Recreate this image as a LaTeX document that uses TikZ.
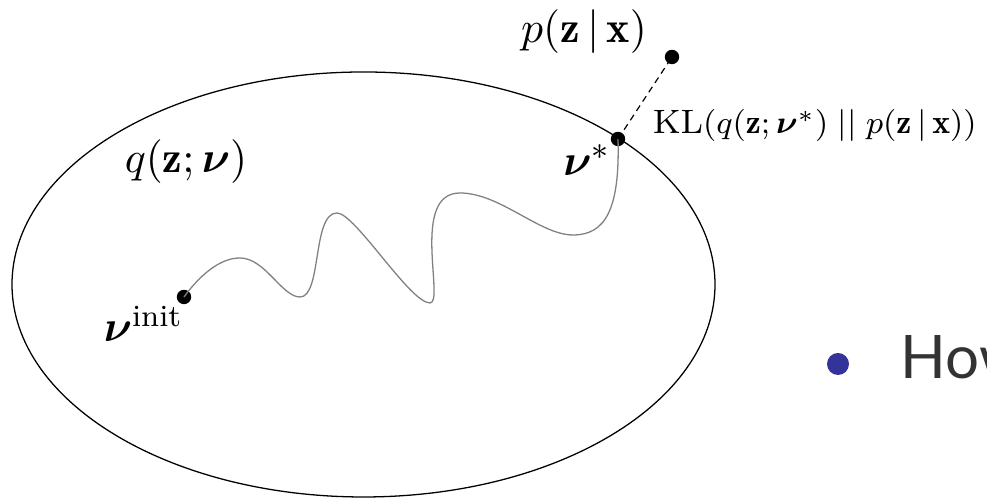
\documentclass[tikz,border=0pt]{standalone}
\usepackage{amsmath,amssymb}
\usepackage{fontspec}
\newfontfamily\howfont{Lato}
\definecolor{bulletblue}{RGB}{51,51,153}
\definecolor{pathgray}{RGB}{128,128,128}
\tikzset{
  dotnode/.style={circle, fill=black, inner sep=0pt, minimum size=3.6pt},
  mainlabel/.style={inner sep=0pt, font=\fontsize{11}{13}\selectfont},
  kllabel/.style={inner sep=0pt, font=\fontsize{8.45}{10}\selectfont},
  wiggle/.style={draw=pathgray, line width=0.32pt},
}
\begin{document}
\begin{tikzpicture}[x=0.25pt, y=-0.25pt]
\useasboundingbox (0,0) rectangle (987,498);
\clip (0,0) rectangle (987,498);
% ellipse
\draw[line width=0.32pt] (363.5,284.5) ellipse [x radius=351.5, y radius=212.5];
% dots
\node[dotnode] (vinit) at (184,297) {};
\node[dotnode] (vstar) at (618,139) {};
\node[dotnode] (pzx) at (672,57) {};
% wiggly path
\draw[wiggle] (vinit.center) .. controls (200,275) and (220,258) .. (240,258)
  .. controls (265,258) and (282,297) .. (300,297)
  .. controls (322,297) and (312,213) .. (337,213)
  .. controls (355,213) and (410,303) .. (430,303)
  .. controls (445,303) and (410,193) .. (460,193)
  .. controls (500,193) and (540,235) .. (573,235)
  .. controls (605,235) and (620,210) .. (vstar.center);
% dashed line
\draw[dashed, line width=0.3pt, dash pattern=on 1.6pt off 1.2pt] (vstar.center) -- (pzx.center);
% labels
\node[mainlabel] (plabel) at (584,32) {$p(\mathbf{z}\,|\,\mathbf{x})$};
\node[mainlabel] (qlabel) at (186,162) {$q(\mathbf{z};\boldsymbol{\nu})$};
\node[mainlabel] (vstarlabel) at (587,160) {$\boldsymbol{\nu}^*$};
\node[mainlabel, anchor=base west] (vinitlabel) at (103,342) {$\boldsymbol{\nu}^{\mathrm{init}}$};
\node[kllabel, anchor=west] (kl) at (652,126) {$\mathrm{KL}(q(\mathbf{z};\boldsymbol{\nu}^*)\;||\;p(\mathbf{z}\,|\,\mathbf{x}))$};
% bullet
\node[circle, fill=bulletblue, inner sep=0pt, minimum size=5.5pt] (bullet) at (838,364) {};
\node[anchor=base west, inner sep=0pt, text=black!80, font=\howfont\fontsize{15}{18}\selectfont] (how) at (900,379) {How};
\end{tikzpicture}
\end{document}
